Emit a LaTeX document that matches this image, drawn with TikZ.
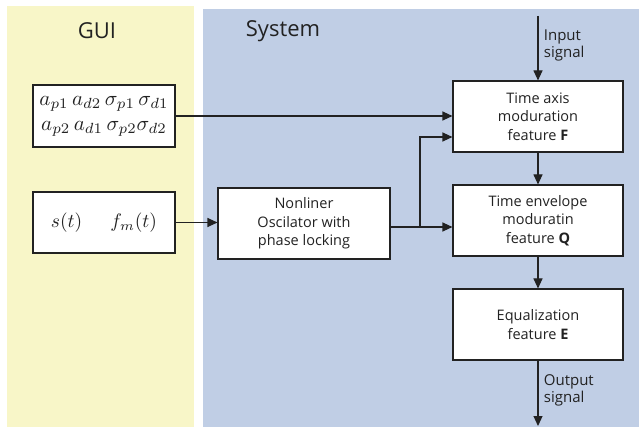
\documentclass[tikz,border=0pt]{standalone}
\usepackage{fontspec}
\setsansfont{Open Sans}
\usetikzlibrary{arrows.meta}
\definecolor{guiyellow}{HTML}{F8F6C8}
\definecolor{sysblue}{HTML}{C0CEE5}
\definecolor{ink}{HTML}{222222}
\begin{document}
\begin{tikzpicture}[x=1pt,y=-1pt,
  blk/.style={draw=ink,line width=1.1pt,fill=white,inner sep=0pt,align=center,font=\sffamily\fontsize{14.5}{18.3}\selectfont,text=ink},
  conn/.style={draw=ink,line width=1.1pt,-{Triangle[length=10pt,width=9pt]}},
  lbl/.style={font=\sffamily\fontsize{15}{17}\selectfont,text=ink,align=left,anchor=west}]
\useasboundingbox (0,0) rectangle (639,427);
\fill[white] (0,0) rectangle (639,427);
\fill[guiyellow] (7,6) rectangle (194,427);
\fill[sysblue] (203,9) rectangle (639,427);
\node[font=\sffamily\fontsize{22}{24}\selectfont,text=ink] (guit) at (97,31) {GUI};
\node[font=\sffamily\fontsize{22}{24}\selectfont,text=ink] (syst) at (283,31) {System};
\node[blk,minimum width=142pt,minimum height=62pt,font=\fontsize{10}{25}\selectfont] (par) at (104,116)
  {\scalebox{2.1}{$a_{p1}\,a_{d2}\,\sigma_{p1}\,\sigma_{d1}$}\\\scalebox{2.1}{$a_{p2}\,a_{d1}\,\sigma_{p2}\sigma_{d2}$}};
\node[blk,minimum width=142pt,minimum height=61pt,font=\fontsize{10}{20}\selectfont] (sig) at (104,222.5)
  {\scalebox{1.95}{$s(t)\quad\;\, f_m(t)$}};
\node[blk,minimum width=172pt,minimum height=71pt] (osc) at (304,223.5)
  {Nonliner\\Oscilator with\\phase locking};
\node[blk,minimum width=170pt,minimum height=71pt] (F) at (538,116.5)
  {Time axis\\moduration\\feature \textbf{F}};
\node[blk,minimum width=170pt,minimum height=71pt] (Q) at (538,220.5)
  {Time envelope\\moduratin\\feature \textbf{Q}};
\node[blk,minimum width=170pt,minimum height=71pt] (E) at (538,324.5)
  {Equalization\\feature \textbf{E}};
\coordinate (in) at (538,16);
\coordinate (out) at (538,426);
\coordinate (jn) at (420,227);
\draw[conn] (in) -- (F.north) node[lbl,pos=0.45,xshift=2pt] {Input\\signal};
\draw[conn] (F) -- (Q);
\draw[conn] (Q) -- (E);
\draw[conn] (E.south) -- (out) node[lbl,pos=0.45,xshift=2pt] {Output\\signal};
\draw[conn] (par.east) -- (F.west |- par.east);
\draw[conn] (sig.east) -- (osc.west |- sig.east);
\draw[conn] (osc.east |- jn) -- (Q.west |- jn);
\draw[conn] (jn) -- (420,137) -- (F.west |- 0,137);
\end{tikzpicture}
\end{document}
